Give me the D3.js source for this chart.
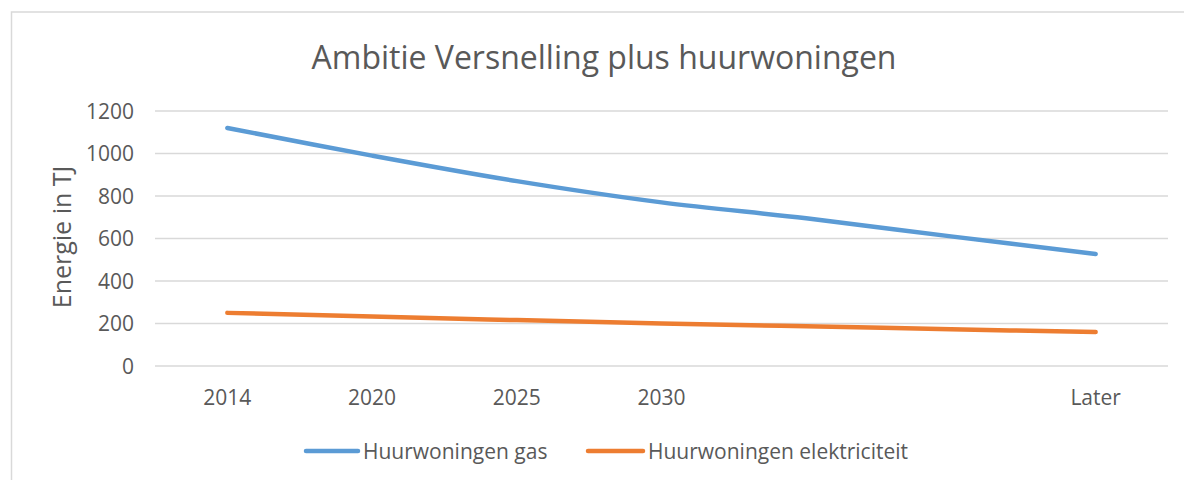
<!DOCTYPE html>
<html>
<head>
<meta charset="utf-8">
<script src="https://cdn.jsdelivr.net/npm/d3@7"></script>
<style>
  body { margin: 0; background: #fff; }
  text { font-family: "Open Sans", sans-serif; fill: #595959; }
</style>
</head>
<body>
<div id="container"></div>
<script>
// chart data
var categories = ["2014", "2020", "2025", "2030", "", "", "Later"];
var gasValues = [1120, 990, 870, 770, 695, 610, 527];
var elecValues = [250, 233, 216, 200, 187, 173, 160];
var seriesNames = ["Huurwoningen gas", "Huurwoningen elektriciteit"];
var yTicks = [0, 200, 400, 600, 800, 1000, 1200];

var width = 1184, height = 480;
var margin = {left: 155, top: 111, right: 16, bottom: 114};
var colors = ["#5B9BD5", "#ED7D31"];

var svg = d3.select("#container")
    .append("svg")
    .attr("width", width)
    .attr("height", height);

// chart border
svg.append("rect")
    .attr("x", 11.5).attr("y", 12)
    .attr("width", width + 20).attr("height", height + 20)
    .attr("fill", "#fff")
    .attr("stroke", "#d9d9d9")
    .attr("stroke-width", 1.5);

var x = d3.scaleBand()
    .domain(d3.range(categories.length))
    .range([margin.left, width - margin.right]);

var y = d3.scaleLinear()
    .domain([0, 1200])
    .range([height - margin.bottom, margin.top]);

// gridlines
svg.append("g")
    .selectAll("line")
    .data(yTicks)
    .enter()
    .append("line")
    .attr("x1", margin.left)
    .attr("x2", width - margin.right)
    .attr("y1", d => y(d))
    .attr("y2", d => y(d))
    .attr("stroke", "#d9d9d9")
    .attr("stroke-width", 1.5);

// y axis labels
var yAxis = svg.append("g")
    .attr("transform", "translate(" + (margin.left - 21) + ",0)")
    .call(d3.axisLeft(y).tickValues(yTicks).tickFormat(d3.format("d")).tickSize(0).tickPadding(0));
yAxis.select(".domain").remove();
yAxis.selectAll("text")
    .style("font-size", "21px")
    .style("font-family", "Open Sans")
    .attr("fill", "#595959")
    .attr("dy", "0.35em");

// x axis labels
var xAxis = svg.append("g")
    .attr("transform", "translate(0," + (height - margin.bottom) + ")")
    .call(d3.axisBottom(x).tickFormat(i => categories[i]).tickSize(0).tickPadding(0));
xAxis.select(".domain").remove();
xAxis.selectAll("text")
    .style("font-size", "21px")
    .style("font-family", "Open Sans")
    .attr("fill", "#595959")
    .attr("y", 39)
    .attr("dy", "0");

// title
svg.append("text")
    .attr("x", 604)
    .attr("y", 69)
    .attr("text-anchor", "middle")
    .style("font-size", "32px")
    .text("Ambitie Versnelling plus huurwoningen");

// y axis title
svg.append("text")
    .attr("transform", "translate(71,237) rotate(-90)")
    .attr("text-anchor", "middle")
    .style("font-size", "25px")
    .text("Energie in TJ");

// lines
var line = d3.line()
    .x((d, i) => x(i) + x.bandwidth() / 2)
    .y(d => y(d))
    .curve(d3.curveCatmullRom.alpha(0.5));

[gasValues, elecValues].forEach(function(vals, k) {
    svg.append("path")
        .datum(vals)
        .attr("d", line)
        .attr("fill", "none")
        .attr("stroke", colors[k])
        .attr("stroke-width", 4.5)
        .attr("stroke-linecap", "round")
        .attr("stroke-linejoin", "round");
});

// legend
var legendX = [306, 588];
var leg = svg.selectAll(".legend")
    .data(seriesNames)
    .enter()
    .append("g")
    .attr("class", "legend")
    .attr("transform", (d, i) => "translate(" + legendX[i] + ",451)");

leg.append("line")
    .attr("x1", 0).attr("x2", (d, i) => i ? 55 : 52)
    .attr("y1", 0).attr("y2", 0)
    .attr("stroke", (d, i) => colors[i])
    .attr("stroke-width", 4.5)
    .attr("stroke-linecap", "round");

leg.append("text")
    .attr("x", (d, i) => i ? 60 : 57)
    .attr("y", 8)
    .style("font-size", "21px")
    .text(d => d);
</script>
</body>
</html>
